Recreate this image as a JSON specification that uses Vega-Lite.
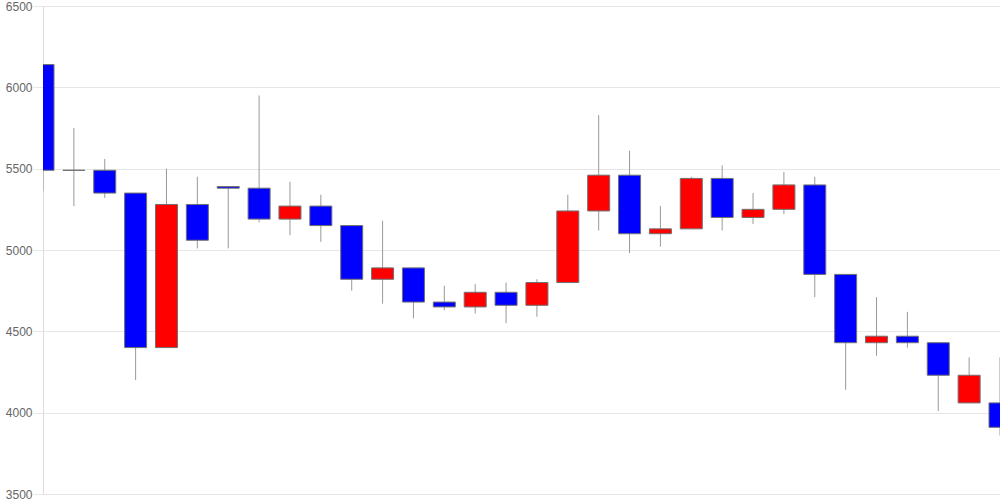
{
  "$schema": "https://vega.github.io/schema/vega-lite/v6.json",
  "width": 957,
  "height": 488,
  "autosize": {"type": "none"},
  "padding": {"left": 43, "top": 6, "right": 0, "bottom": 6},
  "background": "white",
  "config": {"view": {"stroke": null}},
  "data": {"values": [
    {"i": 0, "open": 6140, "high": 6140, "low": 5360, "close": 5490},
    {"i": 1, "open": 5490, "high": 5750, "low": 5270, "close": 5490},
    {"i": 2, "open": 5490, "high": 5560, "low": 5320, "close": 5350},
    {"i": 3, "open": 5350, "high": 5350, "low": 4200, "close": 4400},
    {"i": 4, "open": 4400, "high": 5500, "low": 4400, "close": 5280},
    {"i": 5, "open": 5280, "high": 5450, "low": 5010, "close": 5060},
    {"i": 6, "open": 5390, "high": 5390, "low": 5010, "close": 5380},
    {"i": 7, "open": 5380, "high": 5950, "low": 5170, "close": 5190},
    {"i": 8, "open": 5190, "high": 5420, "low": 5090, "close": 5270},
    {"i": 9, "open": 5270, "high": 5340, "low": 5050, "close": 5150},
    {"i": 10, "open": 5150, "high": 5150, "low": 4750, "close": 4820},
    {"i": 11, "open": 4820, "high": 5180, "low": 4670, "close": 4890},
    {"i": 12, "open": 4890, "high": 4890, "low": 4580, "close": 4680},
    {"i": 13, "open": 4680, "high": 4780, "low": 4630, "close": 4650},
    {"i": 14, "open": 4650, "high": 4790, "low": 4610, "close": 4740},
    {"i": 15, "open": 4740, "high": 4800, "low": 4550, "close": 4660},
    {"i": 16, "open": 4660, "high": 4820, "low": 4590, "close": 4800},
    {"i": 17, "open": 4800, "high": 5340, "low": 4800, "close": 5240},
    {"i": 18, "open": 5240, "high": 5830, "low": 5120, "close": 5460},
    {"i": 19, "open": 5460, "high": 5610, "low": 4980, "close": 5100},
    {"i": 20, "open": 5100, "high": 5270, "low": 5020, "close": 5130},
    {"i": 21, "open": 5130, "high": 5450, "low": 5130, "close": 5440},
    {"i": 22, "open": 5440, "high": 5520, "low": 5120, "close": 5200},
    {"i": 23, "open": 5200, "high": 5350, "low": 5160, "close": 5250},
    {"i": 24, "open": 5250, "high": 5480, "low": 5220, "close": 5400},
    {"i": 25, "open": 5400, "high": 5450, "low": 4710, "close": 4850},
    {"i": 26, "open": 4850, "high": 4850, "low": 4140, "close": 4430},
    {"i": 27, "open": 4430, "high": 4710, "low": 4350, "close": 4470},
    {"i": 28, "open": 4470, "high": 4620, "low": 4400, "close": 4430},
    {"i": 29, "open": 4430, "high": 4430, "low": 4010, "close": 4230},
    {"i": 30, "open": 4060, "high": 4340, "low": 4060, "close": 4230},
    {"i": 31, "open": 4060, "high": 4340, "low": 3860, "close": 3910}
  ]},
  "encoding": {
    "x": {"field": "i", "type": "quantitative", "scale": {"domain": [0, 31], "nice": false, "zero": false, "padding": 0}, "axis": null}
  },
  "layer": [
    {
      "mark": {"type": "rule", "color": "#999999", "strokeWidth": 1, "clip": true},
      "encoding": {
        "y": {"field": "low", "type": "quantitative", "scale": {"domain": [3500, 6500], "nice": false, "zero": false},
          "axis": {"values": [3500, 4000, 4500, 5000, 5500, 6000, 6500], "title": null, "grid": true, "gridColor": "#e6e6e6", "domainColor": "#dddddd", "ticks": true, "tickSize": 10, "tickColor": "#e6e6e6", "labelPadding": 1, "labelColor": "#666666", "labelFont": "Liberation Sans", "labelFontSize": 12, "format": "d"}},
        "y2": {"field": "high"}
      }
    },
    {
      "mark": {"type": "bar", "size": 22, "stroke": "#707070", "strokeWidth": 1, "clip": true},
      "encoding": {
        "y": {"field": "open", "type": "quantitative"},
        "y2": {"field": "close"},
        "color": {
          "condition": {"test": "datum.close > datum.open", "value": "#ff0000"},
          "value": "#0000ff"
        }
      }
    }
  ]
}
